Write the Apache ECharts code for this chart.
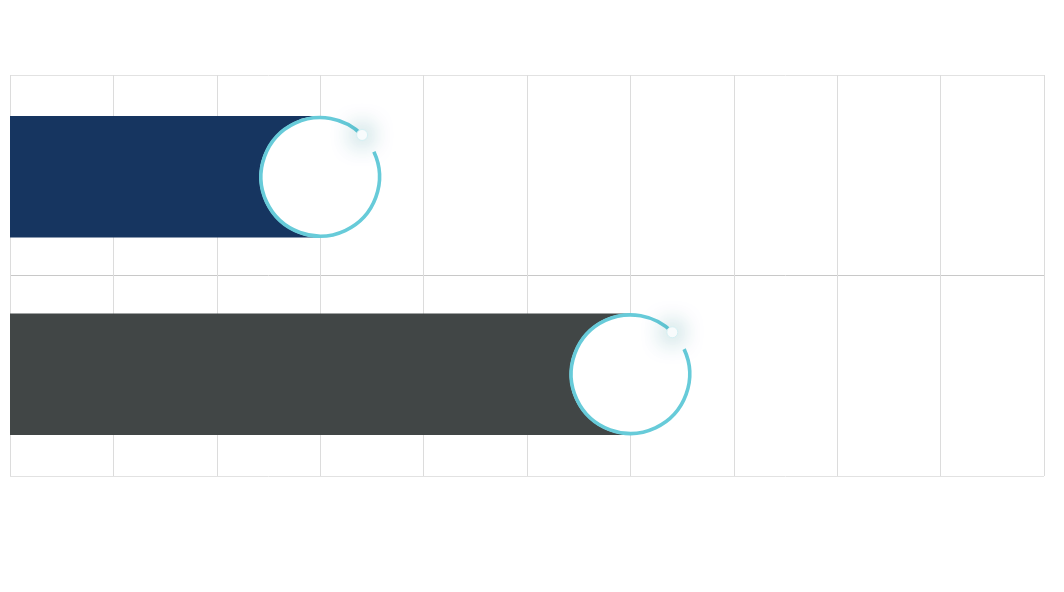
<!DOCTYPE html>
<html>
<head>
<meta charset="utf-8">
<script src="https://cdn.jsdelivr.net/npm/echarts@6/dist/echarts.min.js"></script>
<style>html,body{margin:0;padding:0;background:#fff}#c{width:1064px;height:592px}</style>
</head>
<body>
<div id="c"></div>
<script>
var categories = ['Total'];
var seriesNames = ['A', 'B'];
var values = [3, 6];
var barColors = ['#163560', '#414646'];
var xTicks = [0, 1, 2, 3, 4, 5, 6, 7, 8, 9, 10];

var BAR_FRAC = 0.303;
var GAP_FRAC = 0.624;

var chart = echarts.init(document.getElementById('c'));
var ringData = values.map(function (v, i) { return [v, 0, i]; });

function renderRing(params, api) {
  var p = api.coord([api.value(0), api.value(1)]);
  var band = api.size([0, 1])[1];
  var bw = band * BAR_FRAC;
  var off = bw * (1 + GAP_FRAC) / 2;
  var sign = api.value(2) === 0 ? -1 : 1;
  var cx = p[0], cy = p[1] + sign * off;
  var r = bw / 2;
  var deg = Math.PI / 180;
  var dotA = -45 * deg;
  var rr = r - 1.5;
  return {
    type: 'group',
    children: [
      { type: 'circle', shape: { cx: cx, cy: cy, r: r }, style: { fill: '#ffffff' } },
      { type: 'arc', shape: { cx: cx, cy: cy, r: rr, startAngle: -25 * deg, endAngle: 315 * deg, clockwise: true },
        style: { stroke: '#67cbd9', lineWidth: 3.6, fill: null } },
      { type: 'circle', shape: { cx: cx + rr * Math.cos(dotA), cy: cy + rr * Math.sin(dotA), r: 5.5 },
        style: { fill: '#ffffff', stroke: '#d5f0f3', lineWidth: 1, shadowBlur: 24, shadowColor: 'rgba(20,120,130,1)' } }
    ]
  };
}

chart.setOption({
  animation: false,
  grid: { left: 10, right: 20, top: 75, bottom: 116, containLabel: false },
  xAxis: {
    type: 'value', min: xTicks[0], max: xTicks[xTicks.length - 1], interval: 1,
    axisLine: { show: false }, axisTick: { show: false }, axisLabel: { show: false },
    splitLine: { show: true, lineStyle: { color: '#dcdcdc', width: 1 } }
  },
  yAxis: [
    {
      type: 'category', data: categories,
      axisLine: { show: false }, axisTick: { show: false }, axisLabel: { show: false },
      splitLine: { show: true, lineStyle: { color: '#e2e2e2', width: 1 } }
    },
    {
      type: 'category', data: seriesNames, position: 'left',
      axisLine: { show: false }, axisTick: { show: false }, axisLabel: { show: false },
      splitLine: { show: true, lineStyle: { color: ['rgba(0,0,0,0)', '#c8c8c8', 'rgba(0,0,0,0)'], width: 1 } }
    }
  ],
  series: [
    {
      name: seriesNames[0], type: 'bar', yAxisIndex: 0, barWidth: (BAR_FRAC * 100) + '%', barGap: (GAP_FRAC * 100) + '%',
      itemStyle: { color: barColors[0] }, data: [values[0]], z: 2
    },
    {
      name: seriesNames[1], type: 'bar', yAxisIndex: 0, barWidth: (BAR_FRAC * 100) + '%', barGap: (GAP_FRAC * 100) + '%',
      itemStyle: { color: barColors[1] }, data: [values[1]], z: 2
    },
    {
      type: 'custom', yAxisIndex: 0, renderItem: renderRing, data: ringData, z: 5,
      encode: { x: 0, y: 1 }
    }
  ]
});
</script>
</body>
</html>
